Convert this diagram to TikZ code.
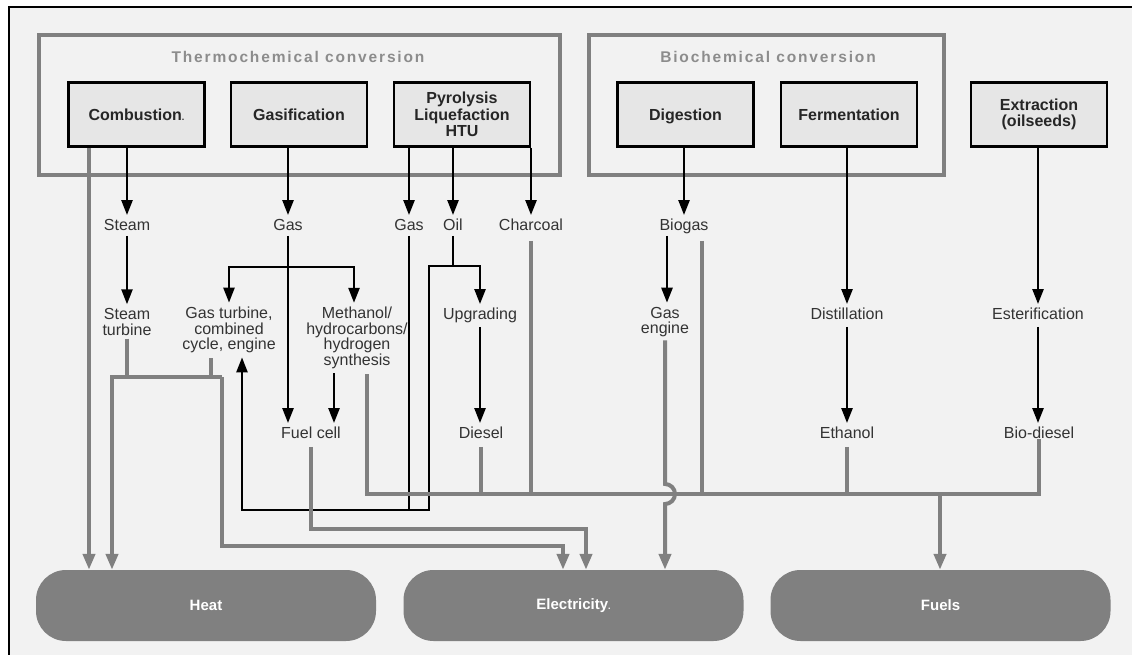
\documentclass[tikz,border=0pt]{standalone}
\usepackage{fontspec}
\setmainfont{Liberation Sans}
\newfontfamily\ttlfont{Liberation Sans}[LetterSpace=12]
\usetikzlibrary{arrows.meta}
\definecolor{bg}{HTML}{F2F2F2}
\definecolor{boxfill}{HTML}{E6E6E6}
\definecolor{lg}{HTML}{808080}
\definecolor{ttlc}{HTML}{8C8C8C}
\definecolor{txt}{HTML}{333333}
\newcommand{\tinydot}{{\fontsize{9}{9}\selectfont.}}
\begin{document}
\begin{tikzpicture}[x=1pt,y=-1pt,
  proc/.style={draw=black, line width=2.8pt, fill=boxfill, minimum width=136pt, minimum height=64pt,
    inner sep=0pt, font=\fontsize{16}{16.5}\selectfont\bfseries, text=black!85, align=center},
  proc1/.style={proc, text height=11.5pt, text depth=0pt},
  grp/.style={draw=lg, line width=4.5pt},
  ttl/.style={font=\ttlfont\fontsize{15.5}{16}\selectfont\bfseries, text=ttlc, inner sep=0pt},
  lbl/.style={font=\fontsize{16}{15.7}\selectfont, text=txt, align=center, inner sep=0pt},
  lbl1/.style={lbl, text height=11.5pt, text depth=0pt},
  blk/.style={draw=black, line width=2.5pt},
  blka/.style={blk, -{Triangle[length=15pt,width=11pt]}, shorten >=4pt},
  gry/.style={draw=lg, line width=4pt},
  grya/.style={gry, -{Triangle[length=16pt,width=12pt]}},
  pill/.style={fill=lg, rounded corners=30pt, minimum width=340pt, minimum height=71pt, inner sep=0pt,
    text=white, font=\fontsize{15}{16}\selectfont\bfseries}
]
\useasboundingbox (0,0) rectangle (1132,655);
\fill[white] (0,0) rectangle (1132,655);
\fill[bg] (9,7) rectangle (1132,655);
\draw[black, line width=2.5pt] (9,655) -- (9,7) -- (1132,7);

% group boxes
\draw[grp] (39,35) rectangle (560,175);
\node[ttl] (tcc) at (298,57) {Thermochemical conversion};
\draw[grp] (589,35) rectangle (944,175);
\node[ttl] (bcc) at (768,57) {Biochemical conversion};

% process boxes
\node[proc1] (comb) at (136.5,114.5) {Combustion\tinydot};
\node[proc1] (gasf) at (299,114.5) {Gasification};
\node[proc] (pyro) at (462,114.5) {Pyrolysis\\Liquefaction\\HTU};
\node[proc1] (dige) at (685.5,114.5) {Digestion};
\node[proc1] (ferm) at (849,114.5) {Fermentation};
\node[proc] (extr) at (1039,114.5) {Extraction\\(oilseeds)};

% level 1 labels
\node[lbl1] (steam) at (127,225) {Steam};
\node[lbl1] (gas1) at (288,225) {Gas};
\node[lbl1] (gas2) at (409,225) {Gas};
\node[lbl1] (oil) at (453,225) {Oil};
\node[lbl1] (charc) at (531,225) {Charcoal};
\node[lbl1] (biogas) at (684,225) {Biogas};

% level 2 labels
\node[lbl] (steamt) at (127,322) {Steam\\turbine};
\node[lbl] (gturb) at (229,330) {Gas turbine,\\combined\\cycle, engine};
\node[lbl] (meth) at (357,338) {Methanol/\\hydrocarbons/\\hydrogen\\synthesis};
\node[lbl1] (upgr) at (480,314) {Upgrading};
\node[lbl] (gasen) at (665,322) {Gas\\engine};
\node[lbl1] (dist) at (847,314) {Distillation};
\node[lbl1] (ester) at (1038,314) {Esterification};

% level 3 labels
\node[lbl1] (fuelc) at (311,433) {Fuel cell};
\node[lbl1] (diesel) at (481,433) {Diesel};
\node[lbl1] (ethanol) at (847,433) {Ethanol};
\node[lbl1] (biod) at (1039,433) {Bio-diesel};

% outputs
\node[pill] (heat) at (206,605.5) {Heat};
\node[pill] (elec) at (573.5,605.5) {Electricity\tinydot};
\node[pill] (fuels) at (940.5,605.5) {Fuels};

% helper coordinates
\coordinate (gbr) at (288,267);
\coordinate (obr) at (453,266);
\coordinate (fb1) at (429,510);
\coordinate (fb2) at (242,510);
\coordinate (xm) at (334,0);
\coordinate (xb) at (667,0);
\coordinate (h1) at (89,0);
\coordinate (c1) at (112,377);
\coordinate (c2) at (222,377);
\coordinate (c3) at (222,546);
\coordinate (c4) at (563,546);
\coordinate (c5) at (586,529);
\coordinate (x211) at (211,0);
\coordinate (b0) at (367,494);
\coordinate (b1) at (1039,494);
\coordinate (bf) at (940,494);
\coordinate (x702) at (702,0);
\coordinate (hopA) at (665,484);

% black arrows
\draw[blka] (comb.south -| steam) -- (steam.north);
\draw[blka] (gasf.south -| gas1) -- (gas1.north);
\draw[blka] (pyro.south -| gas2) -- (gas2.north);
\draw[blka] (pyro.south -| oil) -- (oil.north);
\draw[blka] (pyro.south -| charc) -- (charc.north);
\draw[blka] (dige.south -| biogas) -- (biogas.north);
\draw[blka] (ferm.south -| dist) -- (dist.north);
\draw[blka] (extr.south -| ester) -- (ester.north);

\draw[blka, shorten <=5pt] (steam.south) -- (steamt.north);
\draw[blka, shorten <=5pt] (gas1.south) -- (fuelc.north -| gas1);
\draw[blka] (gbr) -| (gturb.north);
\draw[blka] (gbr) -| (meth.north -| 354,0);
\draw[blka, shorten <=4pt] (meth.south -| xm) -- (fuelc.north -| xm);
\draw[blka, shorten <=5pt] (biogas.south -| xb) -- (gasen.north -| xb);
\draw[blk, shorten <=5pt] (oil.south) -- (obr);
\draw[blka] (obr) -| (upgr.north);
\draw[blka] (obr) -| (fb1) -- (fb2) -- (fb2 |- gturb.south);
\draw[blk, shorten <=5pt] (gas2.south) -- (gas2 |- fb1);
\draw[blka, shorten <=7pt] (upgr.south) -- (diesel.north -| upgr);
\draw[blka, shorten <=7pt] (dist.south) -- (ethanol.north);
\draw[blka, shorten <=7pt] (ester.south) -- (biod.north -| ester);

% grey connectors
\draw[grya] (comb.south -| h1) -- (heat.north -| h1);
\draw[gry, shorten <=3pt] (steamt.south) -- (steamt.south |- c1);
\draw[gry, shorten <=5pt] (gturb.south -| x211) -- (x211 |- c1);
\draw[grya] (c2) -- (c1) -- (heat.north -| c1);
\draw[grya] (c2) -- (c3) -| (elec.north -| c4);
\draw[grya, shorten <=8pt] (fuelc.south) |- (c5) -- (elec.north -| c5);

% fuels bus
\draw[gry, shorten <=5pt] (meth.south -| b0) -- (b0) -- (b1) -- (biod.south -| b1);
\draw[gry, shorten <=8pt] (diesel.south) -- (diesel.south |- b0);
\draw[gry, shorten <=10pt] (charc.south) -- (charc.south |- b0);
\draw[gry, shorten <=10pt] (biogas.south -| x702) -- (x702 |- b0);
\draw[gry, shorten <=8pt] (ethanol.south) -- (ethanol.south |- b0);
\draw[grya] (bf) -- (fuels.north -| bf);

% gas engine to electricity, hopping over the bus
\draw[grya, shorten <=3pt] (gasen.south) -- (hopA) arc[start angle=-90, end angle=90, radius=10] -- (elec.north -| hopA);
\end{tikzpicture}
\end{document}
